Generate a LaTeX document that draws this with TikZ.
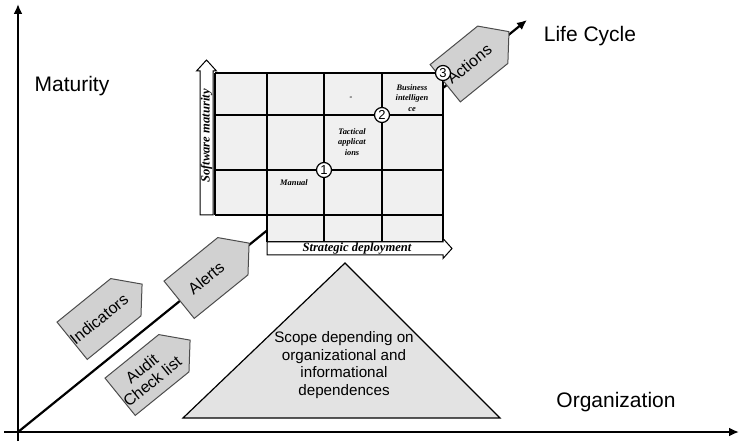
\documentclass[tikz,border=0pt]{standalone}
\usepackage{fontspec}
\setmainfont{Liberation Sans}
\newfontfamily\cellfont{Liberation Serif}
\usetikzlibrary{shapes.symbols,arrows.meta}
\tikzset{
  axis/.style={line width=1.4pt,-{Latex[length=5pt,width=4.5pt]}},
  tagbox/.style={signal,signal to=east,signal pointer angle=98,draw=black!70,fill=black!18,
    line width=0.5pt,minimum width=45pt,minimum height=24pt,inner ysep=1pt,inner xsep=-2.5pt,
    rotate=39,align=center,font=\fontsize{8}{8.4}\selectfont},
  numcirc/.style={circle,draw,fill=white,line width=0.6pt,inner sep=0pt,minimum size=7.5pt,
    font=\fontsize{6.5}{7}\selectfont},
  celltext/.style={align=center,font=\cellfont\bfseries\itshape\fontsize{4.2}{5.2}\selectfont},
  axtext/.style={inner sep=0pt,font=\cellfont\bfseries\itshape\fontsize{6.3}{6.5}\selectfont},
  biglabel/.style={font=\fontsize{10.5}{12}\selectfont}
}
\begin{document}
\begin{tikzpicture}[x=0.5pt,y=-0.5pt]
\useasboundingbox (0,0) rectangle (739,443);
\coordinate (origin) at (18,432);
\coordinate (matBot) at (18,441);
\coordinate (matTop) at (18,4);
\coordinate (orgBeg) at (4,432);
\coordinate (orgEnd) at (739,432);
\coordinate (lifeEnd) at (527,20);
\draw[axis] (matBot) -- (matTop);
\draw[axis] (orgBeg) -- (orgEnd);
\draw[line width=1.1pt,-{Latex[length=5pt,width=4.5pt]}] (origin) -- (lifeEnd);

\draw[line width=0.6pt,fill=black!11] (345,263) -- (500,418) -- (183,418) -- cycle;
\node[align=center,font=\fontsize{7.6}{8.8}\selectfont] (scope) at (344,365)
  {Scope depending on\\organizational and\\informational\\dependences};

\fill[black!6] (215,73) rectangle (443,215);
\fill[black!6] (267,215) rectangle (443,242);
\draw[line width=0.9pt] (215,73) -- (443,73);
\draw[line width=0.9pt] (215,115) -- (443,115);
\draw[line width=0.9pt] (215,170) -- (443,170);
\draw[line width=0.9pt] (215,215) -- (443,215);
\draw[line width=0.9pt] (267,242) -- (443,242);
\draw[line width=0.9pt] (215,73) -- (215,215);
\foreach \x in {267,324,382,443}
  \draw[line width=0.9pt] (\x,73) -- (\x,242);

\draw[line width=0.5pt,fill=white] (200,215) -- (200,71) -- (196.5,71) -- (206.5,60)
  -- (216.5,71) -- (213,71) -- (213,215) -- cycle;
\node[axtext,rotate=90] (swmat) at (206.5,136) {Software maturity};
\draw[line width=0.5pt,fill=white] (267,242) -- (443,242) -- (443,238.5) -- (452,248.5)
  -- (443,258.5) -- (443,255) -- (267,255) -- cycle;
\node[axtext] (stratdep) at (357,248.5) {Strategic deployment};

\node[celltext] (manual) at (294,183) {Manual};
\node[celltext] (tactical) at (352,142) {Tactical\\applicat\\ions};
\node[celltext] (dash) at (351,98) {-};
\node[celltext] (busint) at (412,98) {Business\\intelligen\\ce};

\node[tagbox] (indic) at (99,319) {Indicators};
\node[tagbox] (audit) at (147,375) {Audit\\Check list};
\node[tagbox] (alerts) at (206,278) {Alerts};
\node[tagbox,minimum width=41pt] (actions) at (469,64) {Actions};

\node[numcirc] (one) at (324,170) {1};
\node[numcirc] (two) at (382,115) {2};
\node[numcirc] (three) at (443,73) {3};

\node[biglabel] (maturity) at (72,86) {Maturity};
\node[biglabel] (lifecycle) at (590,36) {Life Cycle};
\node[biglabel] (organization) at (616,402) {Organization};
\end{tikzpicture}
\end{document}
